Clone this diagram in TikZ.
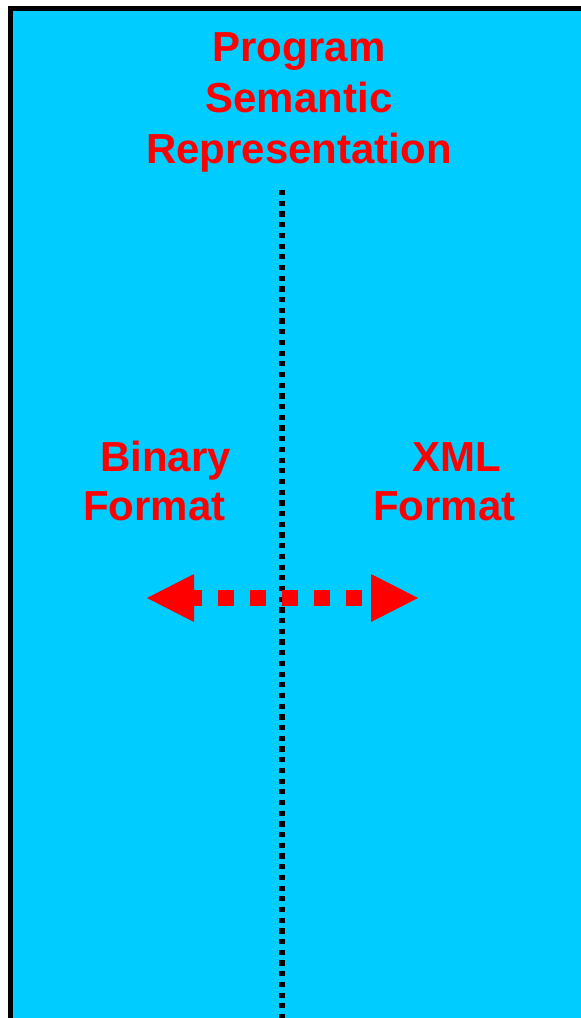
\documentclass[tikz,border=0pt]{standalone}
\usepackage{fontspec}
\setmainfont{Liberation Sans}
\definecolor{panelcyan}{HTML}{00CCFF}
\definecolor{labelred}{HTML}{FF0000}
\begin{document}
\begin{tikzpicture}[x=1pt,y=-1pt,
  label/.style={text=labelred,font=\bfseries\fontsize{42}{50.6}\selectfont,inner sep=0pt},
  sidelabel/.style={label,font=\bfseries\fontsize{42}{48.3}\selectfont,align=left},
  divider/.style={line width=5.2pt,dash pattern=on 5.2pt off 5.5pt},
  linkbar/.style={labelred,line width=16pt,dash pattern=on 16pt off 16pt,dash phase=8pt},
  tiphead/.style={fill=labelred}]
\useasboundingbox (0,0) rectangle (581,1018);
\clip (0,0) rectangle (581,1018);
% panel, open to the right and bottom
\draw[fill=panelcyan,line width=5pt] (10.5,8.5) rectangle (620,1060);

% title (anchored on the baseline of its last line)
\node[label,align=center,anchor=base] (title) at (299,163)
  {Program\\Semantic\\Representation};

% the two formats
\node[sidelabel,anchor=base west] (binary) at (83,520) {\hspace*{17pt}Binary\\Format};
\node[sidelabel,anchor=base west] (xml) at (373,520) {\hspace*{39pt}XML\\Format};

% dotted divider
\coordinate (divtop) at (282,190);
\coordinate (divbot) at (282,1030);
\draw[divider] (divtop) -- (divbot);

% two-way conversion arrow
\coordinate (ltip) at (147,598);
\coordinate (lbase) at (194,598);
\coordinate (rbase) at (371,598);
\coordinate (rtip) at (418,598);
\draw[linkbar] (lbase) -- (rbase);
\fill[tiphead] (ltip) -- ([yshift=-24pt]lbase) -- ([yshift=24pt]lbase) -- cycle;
\fill[tiphead] (rtip) -- ([yshift=-24pt]rbase) -- ([yshift=24pt]rbase) -- cycle;
\end{tikzpicture}
\end{document}
